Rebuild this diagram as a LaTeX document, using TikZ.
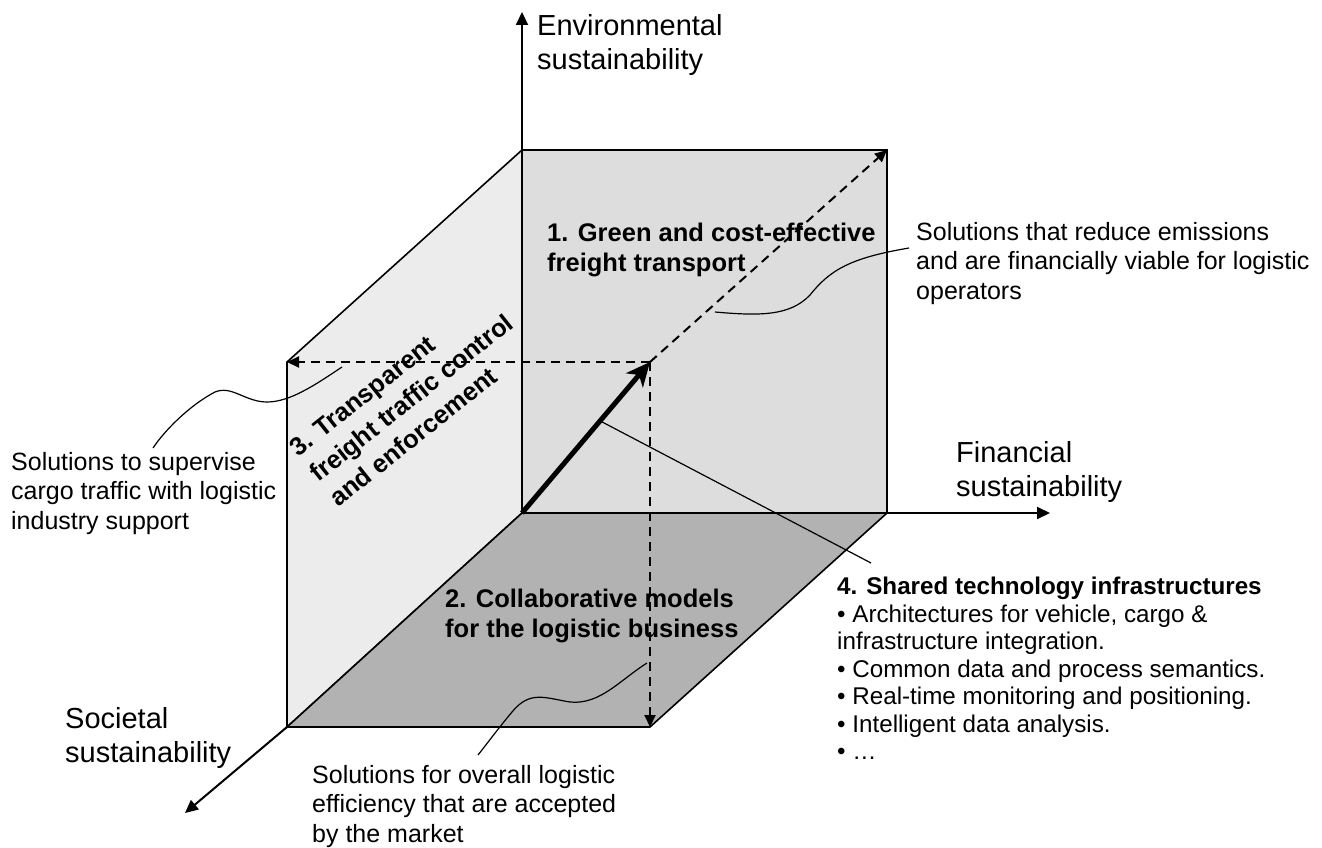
\documentclass[tikz,border=0pt]{standalone}
\usepackage{fontspec}
\setmainfont{Liberation Sans}
\usetikzlibrary{arrows.meta,calc}
\def\backface{(522,150) -- (887,150) -- (887,513) -- (522,513) -- cycle}
\def\sideface{(522,150) -- (287,362) -- (287,727) -- (522,513) -- cycle}
\def\floorface{(522,513) -- (887,513) -- (650,727) -- (287,727) -- cycle}
\colorlet{back area}{black!13.5}
\colorlet{side area}{black!7.5}
\colorlet{floor area}{black!30}
\tikzset{face/.style={draw=black, line width=1.6pt},
	axis/.style={line width=2pt, -{Triangle[length=13pt,width=12pt]}},
	guide/.style={line width=2pt, dash pattern=on 9pt off 6pt, -{Triangle[length=12pt,width=11pt]}},
	callout/.style={line width=1.2pt},
	axislabel/.style={anchor=north west, inner sep=0pt, align=left, font=\fontsize{29}{34}\selectfont},
	note/.style={anchor=north west, inner sep=0pt, align=left, font=\fontsize{25}{29.5}\selectfont},
	area/.style={anchor=north west, inner sep=0pt, align=left, font=\bfseries\fontsize{25.5}{30}\selectfont}}

\begin{document}
\begin{tikzpicture}[x=1pt,y=-1pt]
		\useasboundingbox (0,0) rectangle (1322,848);
		% the three faces of the box
		\draw[face, fill=back area] \backface;
		\draw[face, fill=side area] \sideface;
		\draw[face, fill=floor area] \floorface;
		
		\coordinate (O) at (522,513);
		\coordinate (top) at (522,150);
		\coordinate (topR) at (887,150);
		\coordinate (R) at (887,513);
		\coordinate (L) at (287,727);
		\coordinate (sideT) at (287,362);
		\coordinate (floorR) at (650,727);
		\coordinate (P) at (650,362);
		\coordinate (envTip) at (522,12);
		\coordinate (finTip) at (1050,513);
		\coordinate (socTip) at (185,813);
		
		% axes
		\draw[axis] (top) -- (envTip);
		\draw[axis] (R) -- (finTip);
		\draw[axis] (L) -- (socTip);
		\node[axislabel] (env) at (537,14) {Environmental\\sustainability};
		\node[axislabel] (fin) at (956,441) {Financial\\sustainability};
		\node[axislabel] (soc) at (65,707) {Societal\\sustainability};
		
		% projections of the target
		\draw[guide] (P) -- (topR);
		\draw[guide] (P) -- (sideT);
		\draw[guide] (P) -- (floorR);
		\draw[line width=5pt, -{Stealth[length=24pt,width=22pt,inset=7pt]}] (O) -- (P);
		
		% the four areas
		\node[area] (green) at (547,223) {1. Green and cost-effective\\freight transport};
		\node[area] (collab) at (445,589) {2. Collaborative models\\for the logistic business};
		\node[area, anchor=west, rotate=38.5, font=\bfseries\fontsize{25.5}{32}\selectfont] (control) at (313,476) {3. Transparent\\freight traffic control\\and enforcement};
		\node[note, font=\fontsize{24.2}{27.5}\selectfont] (tech) at (837,577) {\textbf{4. Shared technology infrastructures}\\
			• Architectures for vehicle, cargo \&\\infrastructure integration.\\
			• Common data and process semantics.\\
			• Real-time monitoring and positioning.\\
			• Intelligent data analysis.\\
			• …};
		
		\node[note] (emis) at (916,222) {Solutions that reduce emissions\\and are financially viable for logistic\\operators};
		\node[note] (superv) at (11,452) {Solutions to supervise\\cargo traffic with logistic\\industry support};
		\node[note] (effic) at (312,765) {Solutions for overall logistic\\efficiency that are accepted\\by the market};
		
		% callouts
		\coordinate (c1) at (715,312);
		\coordinate (c2) at (647,663);
		\coordinate (c3) at (342,367);
		\draw[callout] (c1) .. controls (760,316) and (790,316) .. (810,295)
			.. controls (830,270) and (850,258) .. ([shift={(-7,26)}]emis.north west);
		\draw[callout] (c2) .. controls (620,680) and (600,705) .. (570,702)
			.. controls (545,698) and (530,690) .. (512,712)
			.. controls (497,730) and (486,745) .. ([shift={(166,-10)}]effic.north west);
		\draw[callout] (c3) .. controls (315,385) and (290,402) .. (267,402)
			.. controls (245,402) and (232,385) .. (215,392)
			.. controls (190,405) and (165,430) .. ([shift={(142,-4)}]superv.north west);
		\draw[callout] ($(O)!0.61!(P)$) -- ([shift={(34,-14)}]tech.north west);
		\end{tikzpicture}
\end{document}
